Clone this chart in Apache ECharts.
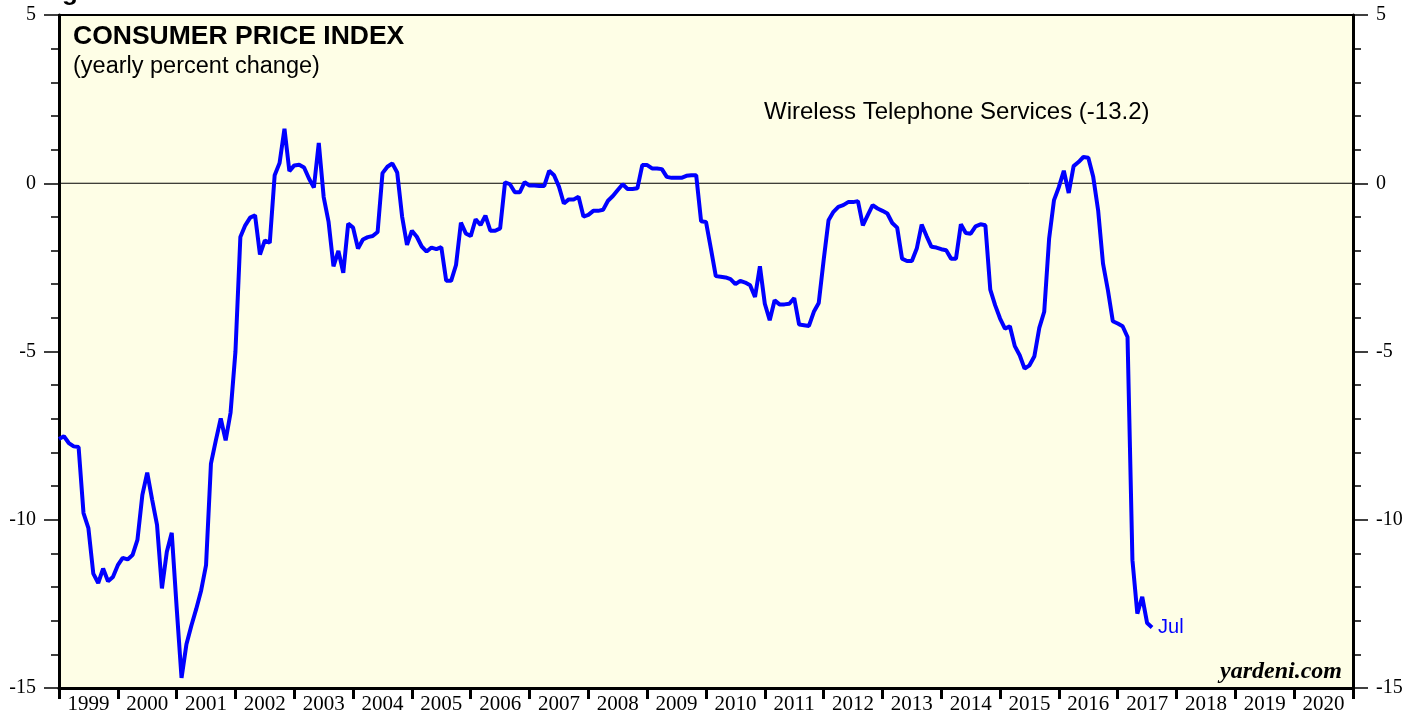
<!DOCTYPE html>
<html>
<head>
<meta charset="utf-8">
<script src="https://cdn.jsdelivr.net/npm/echarts@6/dist/echarts.min.js"></script>
<style>
html,body{margin:0;padding:0;background:#fff;}
#chart{width:1421px;height:719px;}
</style>
</head>
<body>
<div id="chart"></div>
<script>
// Year labels on the x axis
const years = ['1999','2000','2001','2002','2003','2004','2005','2006','2007','2008','2009','2010','2011','2012','2013','2014','2015','2016','2017','2018','2019','2020'];
const xStart = 1999;   // first observation sits on the 1999 boundary (end of Dec 1998)
const xEnd = 2021;
// Y axis ticks
const yMin = -15, yMax = 5, yStep = 5;
// Wireless telephone services CPI, yearly percent change (monthly, Dec 1998 .. Jul 2017)
const wirelessYoY = [
 -7.6,-7.52,-7.72,-7.82,-7.84,-9.8,-10.25,-11.6,-11.88,-11.45,-11.83,-11.7,
 -11.35,-11.13,-11.18,-11.05,-10.6,-9.27,-8.6,-9.4,-10.15,-12.04,-10.95,-10.39,
 -12.6,-14.7,-13.7,-13.15,-12.65,-12.1,-11.35,-8.33,-7.64,-6.99,-7.64,-6.82,
 -5.0,-1.6,-1.25,-1.02,-0.95,-2.12,-1.7,-1.77,0.24,0.6,1.62,0.36,
 0.53,0.55,0.47,0.14,-0.13,1.2,-0.41,-1.15,-2.47,-2.01,-2.66,-1.2,
 -1.32,-1.94,-1.67,-1.6,-1.57,-1.45,0.3,0.49,0.59,0.32,-0.99,-1.83,
 -1.41,-1.59,-1.88,-2.03,-1.91,-1.96,-1.9,-2.9,-2.9,-2.43,-1.17,-1.49,
 -1.57,-1.07,-1.24,-0.96,-1.41,-1.41,-1.34,0.03,-0.03,-0.27,-0.27,0.03,
 -0.07,-0.07,-0.08,-0.08,0.37,0.24,-0.1,-0.6,-0.48,-0.48,-0.4,-0.99,
 -0.94,-0.82,-0.82,-0.79,-0.52,-0.38,-0.2,-0.03,-0.17,-0.17,-0.15,0.54,
 0.54,0.44,0.44,0.42,0.19,0.16,0.16,0.16,0.22,0.24,0.24,-1.13,
 -1.15,-1.94,-2.76,-2.78,-2.8,-2.85,-3.0,-2.9,-2.95,-3.03,-3.38,-2.47,
 -3.58,-4.07,-3.48,-3.6,-3.6,-3.58,-3.41,-4.2,-4.22,-4.24,-3.82,-3.56,
 -2.29,-1.1,-0.85,-0.7,-0.65,-0.56,-0.56,-0.53,-1.25,-0.95,-0.65,-0.75,
 -0.82,-0.9,-1.18,-1.32,-2.24,-2.31,-2.31,-1.94,-1.23,-1.57,-1.89,-1.91,
 -1.96,-1.99,-2.24,-2.24,-1.22,-1.48,-1.5,-1.28,-1.22,-1.25,-3.16,-3.63,
 -4.02,-4.32,-4.25,-4.84,-5.11,-5.51,-5.41,-5.14,-4.3,-3.82,-1.65,-0.5,
 -0.11,0.37,-0.29,0.51,0.63,0.78,0.76,0.19,-0.8,-2.39,-3.18,-4.1,
 -4.17,-4.25,-4.57,-11.2,-12.79,-12.29,-13.07,-13.2
];
const lastLabel = 'Jul';

const seriesData = wirelessYoY.map((v, k) => [xStart + k / 12, v]);

const serif = 'Liberation Serif';
const sans = 'Liberation Sans';

const chart = echarts.init(document.getElementById('chart'), null, {renderer: 'canvas'});
const yAxisCommon = {
  type: 'value', min: yMin, max: yMax, interval: yStep,
  axisLine: {show: true, onZero: false, lineStyle: {color: '#000', width: 3}},
  axisTick: {show: true, inside: false, length: 15, lineStyle: {color: '#000', width: 1.5}},
  minorTick: {show: true, splitNumber: 5, length: 8, lineStyle: {color: '#000', width: 1.5}},
  splitLine: {show: false},
  axisLabel: {color: '#000', fontFamily: serif, fontSize: 20, margin: 23}
};
chart.setOption({
  animation: false,
  backgroundColor: '#ffffff',
  grid: {left: 59, right: 68, top: 15, bottom: 31, show: true, backgroundColor: '#FEFEE6', borderColor: '#000', borderWidth: 2},
  xAxis: [
    {type: 'value', min: xStart, max: xEnd, show: false},
    {type: 'category', data: years, boundaryGap: true, position: 'bottom',
     axisLine: {show: true, onZero: false, lineStyle: {color: '#000', width: 3}},
     axisTick: {show: true, inside: false, length: 11, interval: 0, lineStyle: {color: '#000', width: 3}},
     axisLabel: {color: '#000', fontFamily: serif, fontSize: 21, margin: 6, interval: 0},
     splitLine: {show: false}}
  ],
  yAxis: [
    Object.assign({position: 'left'}, yAxisCommon),
    Object.assign({position: 'right'}, yAxisCommon)
  ],
  graphic: [
    {type: 'text', left: 62, top: -20, style: {text: 'g', fontFamily: sans, fontWeight: 'bold', fontSize: 26, fill: '#000'}},
    {type: 'text', left: 73, top: 23, style: {text: 'CONSUMER PRICE INDEX', fontFamily: sans, fontWeight: 'bold', fontSize: 26.5, fill: '#000'}},
    {type: 'text', left: 73, top: 55, style: {text: '(yearly percent change)', fontFamily: sans, fontSize: 23.5, fill: '#000'}},
    {type: 'text', left: 764, top: 100, style: {text: 'Wireless Telephone Services (-13.2)', fontFamily: sans, fontSize: 24, fill: '#000'}},
    {type: 'text', right: 79, top: 660, style: {text: 'yardeni.com', fontFamily: serif, fontWeight: 'bold', fontStyle: 'italic', fontSize: 24, fill: '#000'}}
  ],
  series: [
    {type: 'line', xAxisIndex: 0, yAxisIndex: 0, data: [[xStart, 0], [xEnd, 0]], symbol: 'none', silent: true, z: 1,
     lineStyle: {color: '#000', width: 1}},
    {type: 'line', xAxisIndex: 0, yAxisIndex: 0, data: seriesData, symbol: 'none', z: 3,
     lineStyle: {color: '#0000FF', width: 4},
     endLabel: {show: true, formatter: lastLabel, color: '#0000FF', fontFamily: sans, fontSize: 20, distance: 6}}
  ]
});
</script>
</body>
</html>
